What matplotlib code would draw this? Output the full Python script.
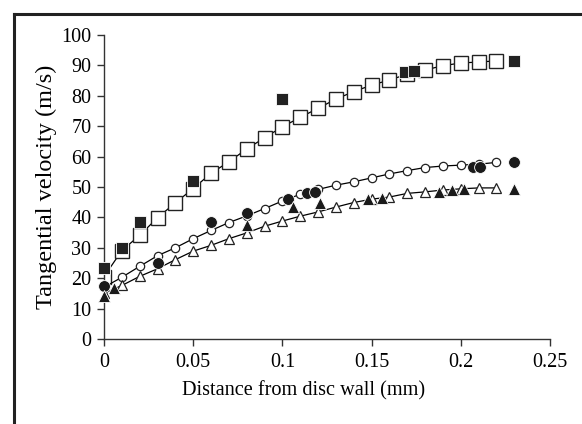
import matplotlib
matplotlib.use("Agg")
import matplotlib.pyplot as plt
from matplotlib.lines import Line2D

plt.rcParams['font.family'] = ['Liberation Serif', 'DejaVu Serif']

# Open squares (line)
sq_open_x = [0, 0.01, 0.02, 0.03, 0.04, 0.05, 0.06, 0.07, 0.08, 0.09, 0.10, 0.11,
             0.12, 0.13, 0.14, 0.15, 0.16, 0.17, 0.18, 0.19, 0.20, 0.21, 0.22]
sq_open_y = [20.5, 29.1, 34.1, 39.9, 44.8, 49.5, 54.5, 58.3, 62.5, 66.2, 69.8, 72.9,
             75.9, 78.9, 81.4, 83.5, 85.2, 87.1, 88.5, 89.9, 90.8, 91.1, 91.5]
# Filled squares
sq_fill_x = [0, 0.01, 0.02, 0.05, 0.10, 0.169, 0.174, 0.23]
sq_fill_y = [23.4, 30.0, 38.5, 52.0, 78.9, 87.8, 88.2, 91.5]

# Open circles (line)
ci_open_x = [0, 0.01, 0.02, 0.03, 0.04, 0.05, 0.06, 0.07, 0.08, 0.09, 0.10, 0.11,
             0.12, 0.13, 0.14, 0.15, 0.16, 0.17, 0.18, 0.19, 0.20, 0.21, 0.22]
ci_open_y = [17.0, 20.3, 23.9, 27.4, 30.0, 33.0, 35.7, 38.3, 40.5, 42.9, 45.4, 47.6,
             49.2, 50.6, 51.7, 53.0, 54.3, 55.4, 56.4, 56.9, 57.2, 57.5, 58.1]
# Filled circles
ci_fill_x = [0, 0.03, 0.06, 0.08, 0.103, 0.114, 0.118, 0.207, 0.211, 0.23]
ci_fill_y = [17.4, 25.0, 38.5, 41.3, 45.9, 48.1, 48.5, 56.6, 56.6, 58.1]

# Open triangles (line)
tr_open_x = [0, 0.01, 0.02, 0.03, 0.04, 0.05, 0.06, 0.07, 0.08, 0.09, 0.10, 0.11,
             0.12, 0.13, 0.14, 0.15, 0.16, 0.17, 0.18, 0.19, 0.20, 0.21, 0.22]
tr_open_y = [15.0, 17.6, 20.6, 23.1, 26.1, 28.9, 30.8, 33.0, 34.9, 37.1, 38.8, 40.4,
             41.8, 43.4, 44.9, 46.0, 46.7, 47.9, 48.4, 49.0, 49.4, 49.7, 49.7]
# Filled triangles
tr_fill_x = [0, 0.0056, 0.08, 0.106, 0.121, 0.148, 0.156, 0.188, 0.195, 0.202, 0.23]
tr_fill_y = [14.3, 16.8, 37.4, 43.4, 44.8, 46.2, 46.5, 48.4, 48.9, 49.3, 49.5]

fig = plt.figure(figsize=(5.82, 4.24), dpi=100)
ax = fig.add_axes([104 / 582, 85 / 424, 446 / 582, 304 / 424])

lw = 0.9
ax.plot(sq_open_x, sq_open_y, '-', color='black', lw=lw, marker='s', ms=9.5,
        mfc='white', mec='#222222', mew=1.0, zorder=2)
ax.plot(ci_open_x, ci_open_y, '-', color='black', lw=lw, marker='o', ms=6,
        mfc='white', mec='#222222', mew=0.9, zorder=2)
ax.plot(tr_open_x, tr_open_y, '-', color='black', lw=lw, marker='^', ms=7,
        mfc='white', mec='#222222', mew=0.9, zorder=2)

ax.plot(sq_fill_x, sq_fill_y, 's', ms=8.5, color='#222222', mec='white', mew=0.6,
        zorder=3, clip_on=False)
ax.plot(ci_fill_x, ci_fill_y, 'o', ms=8.5, color='#1a1a1a', mec='white', mew=0.6,
        zorder=3, clip_on=False)
ax.plot(tr_fill_x, tr_fill_y, '^', ms=9, color='#1a1a1a', mec='white', mew=0.6,
        zorder=3, clip_on=False)

ax.set_xlim(0, 0.25)
ax.set_ylim(0, 100)
ax.set_xticks([0, 0.05, 0.1, 0.15, 0.2, 0.25])
ax.set_xticklabels(['0', '0.05', '0.1', '0.15', '0.2', '0.25'])
ax.set_yticks(range(0, 101, 10))
for s in ['top', 'right']:
    ax.spines[s].set_visible(False)
for s in ['left', 'bottom']:
    ax.spines[s].set_color('#333333')
    ax.spines[s].set_linewidth(1.0)
ax.tick_params(direction='out', length=5, width=1.0, color='#333333',
               labelsize=14.5)
ax.tick_params(axis='x', pad=5)
ax.tick_params(axis='y', pad=4)
ax.set_xlabel('Distance from disc wall (mm)', fontsize=14.6)
ax.xaxis.set_label_coords((303.5 - 104) / 446, (339 - 381) / 304)
ax.set_ylabel('Tangential velocity (m/s)', fontsize=17.5, labelpad=3)

# Outer frame lines (left and top)
fig.add_artist(Line2D([13.5 / 582, 13.5 / 582], [0, 1 - 13.5 / 424], color='#222222',
                      lw=2.2, transform=fig.transFigure))
fig.add_artist(Line2D([13.5 / 582, 1], [1 - 13.5 / 424, 1 - 13.5 / 424], color='#222222',
                      lw=2.2, transform=fig.transFigure))

fig.savefig('out.png', dpi=100)
